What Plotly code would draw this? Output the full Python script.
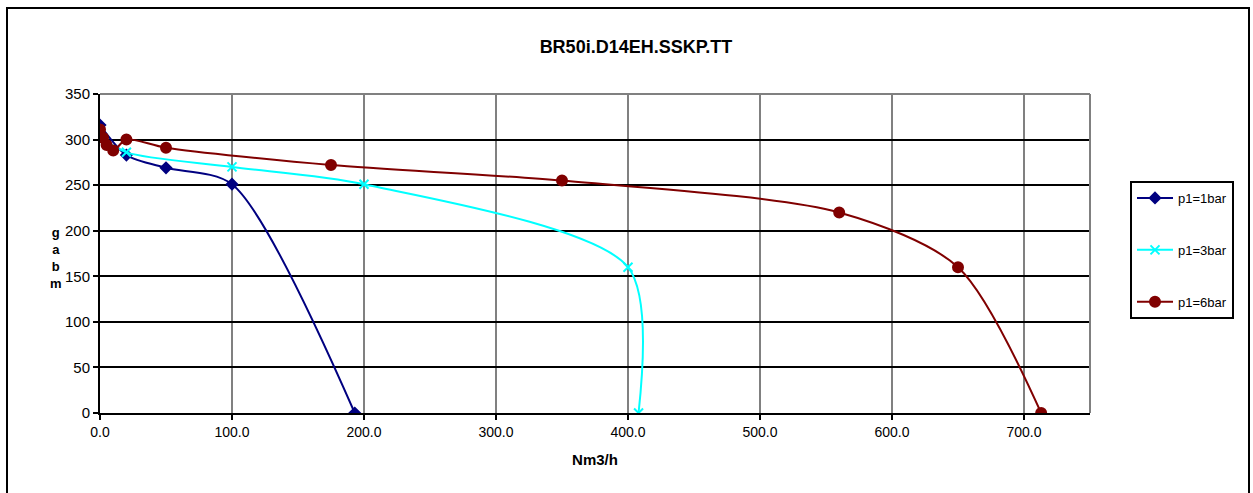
import plotly.graph_objects as go

# Data
x_1bar = [0, 20, 50, 100, 193]
y_1bar = [316, 283, 269, 251, 0]

x_3bar = [0, 20, 100, 200, 400, 408]
y_3bar = [303, 286, 270, 251, 160, 0]

x_6bar = [0, 2.3, 5, 10, 20, 50, 175, 350, 560, 650, 713]
y_6bar = [311, 302, 294, 288, 300, 291, 272, 255, 220, 160, 0]

x_ticks = [0, 100, 200, 300, 400, 500, 600, 700]
y_ticks = [0, 50, 100, 150, 200, 250, 300, 350]

y_title_letters = ["g", "a", "b", "m"]

FONT = "Arial, Liberation Sans, sans-serif"

fig = go.Figure()

series = [
    ("p1=1bar", x_1bar, y_1bar, "#000080", "diamond", 8),
    ("p1=3bar", x_3bar, y_3bar, "#00FFFF", "x-thin", 9),
    ("p1=6bar", x_6bar, y_6bar, "#800000", "circle", 10),
]
for i, (name, xs, ys, col, sym, sz) in enumerate(series):
    fig.add_trace(go.Scatter(
        x=xs, y=ys, name=name, mode="lines+markers",
        line=dict(color=col, width=2, shape="spline", smoothing=0.8),
        marker=dict(color=col, symbol=sym, size=sz,
                    line=dict(color=col, width=2)),
        legendgroup=f"g{i}",
    ))

fig.update_layout(
    width=1253, height=493,
    margin=dict(l=100, r=163, t=94, b=80, autoexpand=False),
    paper_bgcolor="white", plot_bgcolor="white",
    font=dict(family=FONT, size=14, color="black"),
    title=dict(text="<b>BR50i.D14EH.SSKP.TT</b>", x=636/1253, xanchor="center",
               y=1-47/493, yanchor="middle", font=dict(size=18, family=FONT)),
    showlegend=True,
    legend=dict(x=(1130-100)/990, xanchor="left", y=(413-181)/319, yanchor="top",
                bordercolor="black", borderwidth=2, bgcolor="white",
                tracegroupgap=32, itemwidth=36, font=dict(size=13, family=FONT)),
    xaxis=dict(range=[0, 750], tickvals=x_ticks,
               ticktext=[f"{v:.1f}" for v in x_ticks],
               showgrid=True, gridcolor="#808080", gridwidth=2,
               showline=True, linecolor="black", linewidth=2,
               ticks="outside", ticklen=5, tickwidth=2, tickcolor="black",
               zeroline=False, mirror=False, tickfont=dict(size=14),
               title=dict(text="<b>Nm3/h</b>", font=dict(size=15, family=FONT), standoff=16)),
    yaxis=dict(range=[0, 350], tickvals=y_ticks,
               showgrid=True, gridcolor="black", gridwidth=2,
               showline=True, linecolor="black", linewidth=2,
               ticks="outside", ticklen=5, tickwidth=2, tickcolor="black",
               zeroline=False, tickfont=dict(size=15)),
)

# plot area top/right border (grey)
fig.add_shape(type="line", xref="paper", yref="paper", x0=0, x1=1, y0=1, y1=1,
              line=dict(color="#808080", width=2))
fig.add_shape(type="line", xref="paper", yref="paper", x0=1, x1=1, y0=0, y1=1,
              line=dict(color="#808080", width=2))

# outer chart border
fig.add_shape(type="rect", xref="paper", yref="paper",
              x0=(7-100)/990, x1=(1249-100)/990,
              y0=(413-500)/319, y1=(413-8)/319,
              line=dict(color="black", width=2))

# stacked y-axis title
fig.add_annotation(text="<b>" + "<br>".join(y_title_letters) + "</b>",
                   xref="paper", yref="paper",
                   x=(48-100)/990, y=(413-258)/319, showarrow=False,
                   font=dict(size=13, family=FONT), align="center", yanchor="middle")

fig.write_html("out.html", config={"displayModeBar": False},
               post_script="document.body.style.margin='0';document.body.style.padding='0';")
